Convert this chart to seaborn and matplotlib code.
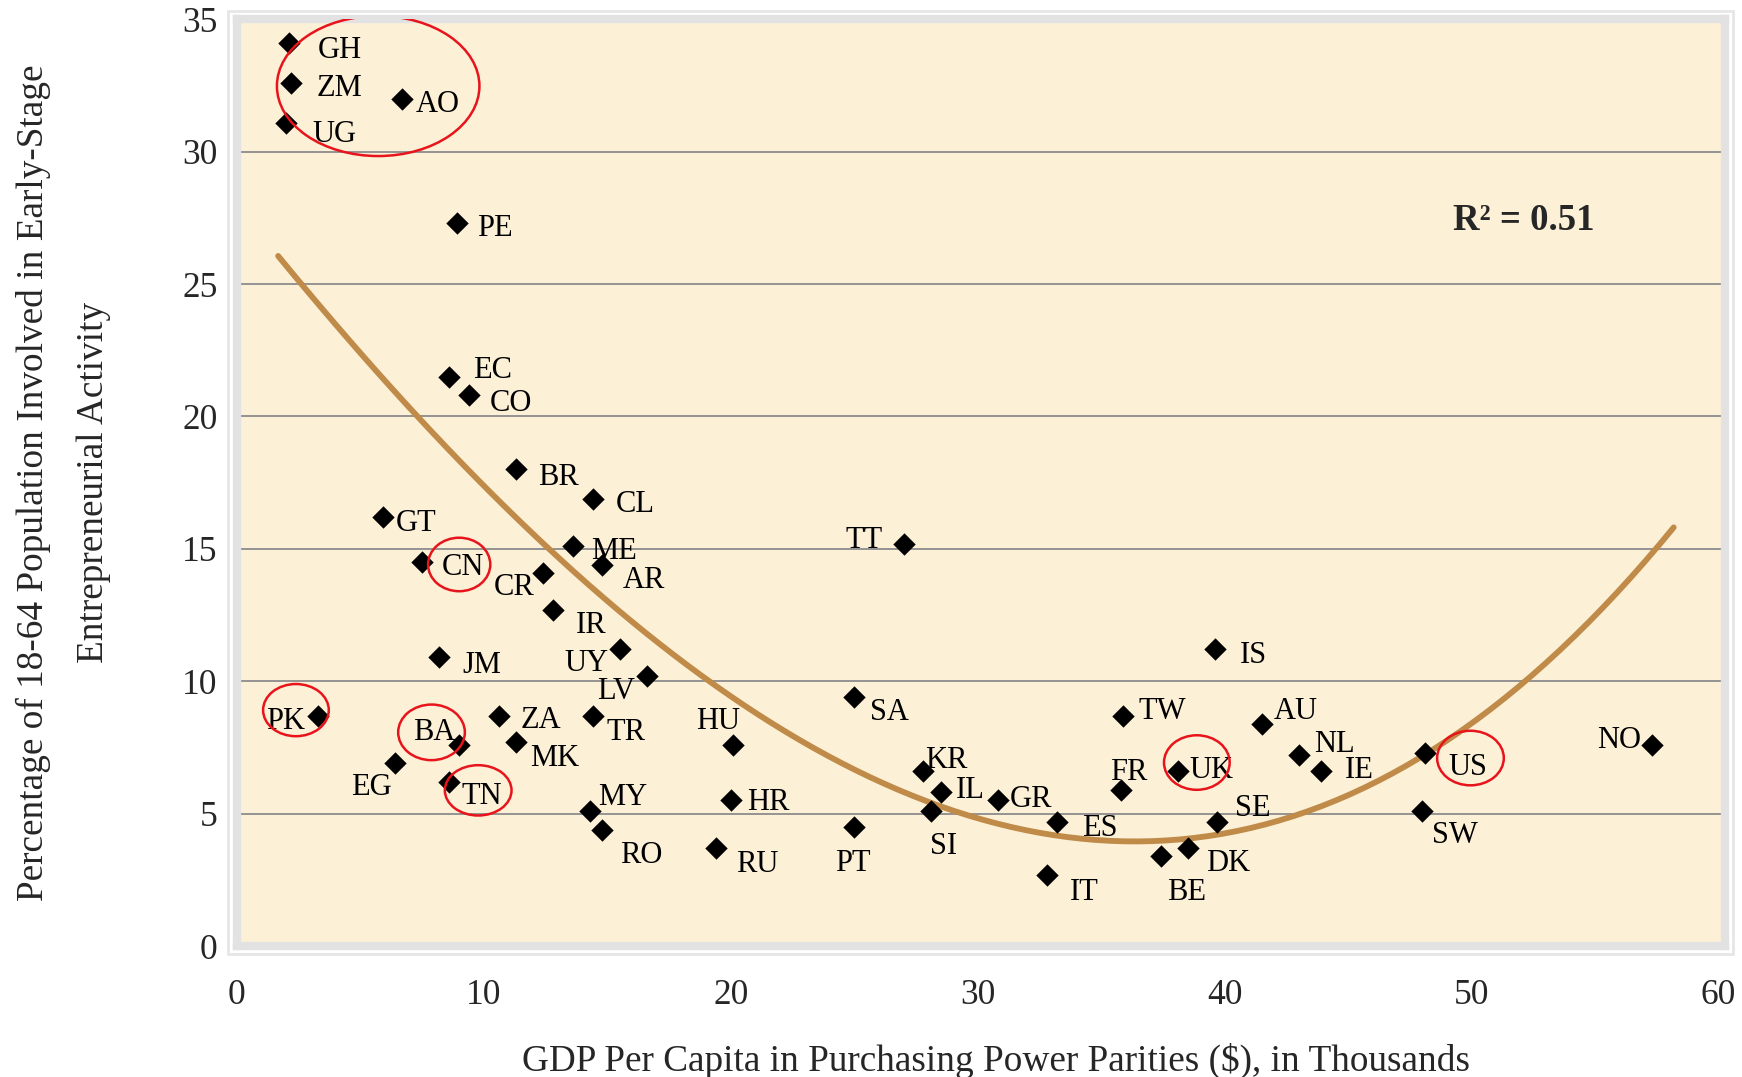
import numpy as np
import pandas as pd
import matplotlib
matplotlib.use("Agg")
import matplotlib.pyplot as plt
import seaborn as sns
from matplotlib.patches import Ellipse, Rectangle

# ---------------- data ----------------
countries = ["GH", "ZM", "UG", "AO", "PE", "EC", "CO", "BR", "CL", "GT", "TT", "ME",
             "CN", "CR", "AR", "IR", "UY", "IS", "JM", "LV", "SA", "TW", "PK", "ZA",
             "TR", "AU", "BA", "HU", "MK", "NO", "US", "NL", "EG", "UK", "IE", "KR",
             "TN", "FR", "IL", "HR", "GR", "MY", "SI", "SW", "ES", "SE", "RO", "PT",
             "DK", "RU", "BE", "IT"]
gdp = [2.1, 2.2, 2.0, 6.7, 8.9, 8.6, 9.4, 11.3, 14.4, 5.9, 27.0, 13.6,
       7.5, 12.4, 14.8, 12.8, 15.5, 39.6, 8.2, 16.6, 25.0, 35.9, 3.3, 10.6,
       14.4, 41.5, 9.0, 20.1, 11.3, 57.3, 48.1, 43.0, 6.4, 38.1, 43.9, 27.8,
       8.6, 35.8, 28.5, 20.0, 30.8, 14.3, 28.1, 48.0, 33.2, 39.7, 14.8, 25.0,
       38.5, 19.4, 37.4, 32.8]
tea = [34.1, 32.6, 31.1, 32.0, 27.3, 21.5, 20.8, 18.0, 16.9, 16.2, 15.2, 15.1,
       14.5, 14.1, 14.4, 12.7, 11.2, 11.2, 10.9, 10.2, 9.4, 8.7, 8.7, 8.7,
       8.7, 8.4, 7.6, 7.6, 7.7, 7.6, 7.3, 7.2, 6.9, 6.6, 6.6, 6.6,
       6.2, 5.9, 5.8, 5.5, 5.5, 5.1, 5.1, 5.1, 4.7, 4.7, 4.4, 4.5,
       3.7, 3.7, 3.4, 2.7]
# label offsets relative to each marker (right / down)
label_dx = [46, 43, 43, 32, 34, 39, 38, 38, 38, 30, -36, 37,
            37, -26, 37, 34, -30, 35, 38, -28, 32, 35, -30, 38,
            30, 31, -22, -14, 35, -30, 39, 32, -21, 30, 34, 21,
            29, 7, 27, 34, 30, 29, 11, 29, 39, 32, 35, -1,
            36, 37, 23, 34]
label_dy = [4, 2, 8, 2, 2, -9, 4, 4, 2, 3, -6, 2,
            2, 10, 11, 11, 10, 2, 4, 11, 11, -7, 2, 1,
            12, -14, -14, -24, 12, -7, 10, -13, 19, -4, -4, -13,
            10, -19, -5, -1, -4, -15, 29, 19, 3, -15, 20, 30,
            11, 12, 30, 13]

# trend line values
trend_x = [1.67, 2.62, 7.48, 12.74, 18.74, 24.17, 27.77, 31.4, 35.9, 40.4,
           44.05, 47.1, 51.87, 57.5, 58.18]
trend_y = [25.93, 25.0, 20.0, 15.0, 10.0, 7.53, 5.27, 4.32, 3.94, 4.32,
           5.2, 6.84, 10.0, 15.0, 15.7]

# highlight ellipses: (x, y, width, height) in data units
hl_x = [5.72, 9.0, 2.39, 7.88, 9.77, 38.87, 49.95]
hl_y = [32.48, 14.41, 8.91, 8.07, 5.88, 6.93, 7.10]
hl_w = [8.2, 2.52, 2.66, 2.7, 2.7, 2.66, 2.7]
hl_h = [5.29, 2.02, 1.97, 2.1, 1.9, 2.06, 2.06]

x_ticks = [0, 10, 20, 30, 40, 50, 60]
y_ticks = [0, 5, 10, 15, 20, 25, 30, 35]

df = pd.DataFrame({"country": countries, "gdp": gdp, "tea": tea})
tdf = pd.DataFrame({"x": trend_x, "y": trend_y})

# ---------------- style ----------------
sns.set_theme(style="white")
serif = ["Liberation Serif", "DejaVu Serif"]
plt.rcParams["font.family"] = serif

fig = plt.figure(figsize=(17.42, 10.77), dpi=100)
ax = fig.add_axes([0.136, 0.1216, 0.854, 0.8605])
ax.set_facecolor("#FCF0D7")

# horizontal gridlines
for yv in y_ticks[1:-1]:
    ax.axhline(yv, color="#8C8C8C", lw=1.3, zorder=1)

# trend line (smooth polynomial through the read trend values)
sns.regplot(data=tdf, x="x", y="y", order=3, ci=None, scatter=False, truncate=True,
            ax=ax, line_kws={"color": "#C08A48", "lw": 4.2, "zorder": 2})

sns.scatterplot(data=df, x="gdp", y="tea", marker="D", s=130, color="black",
                edgecolor="black", linewidth=0, ax=ax, zorder=3)

for c, xv, yv, dx, dy in zip(countries, gdp, tea, label_dx, label_dy):
    ax.annotate(c, (xv, yv), xytext=(dx * 0.8, -(dy + 3) * 0.8), textcoords="offset points",
                ha="center", va="center", fontsize=22, color="black", zorder=4)

for ex, ey, ew, eh in zip(hl_x, hl_y, hl_w, hl_h):
    ax.add_patch(Ellipse((ex, ey), ew, eh, fill=False, edgecolor="#E8141B", lw=1.8, zorder=5))

ax.text(52.1, 27.4, "R² = 0.51", fontsize=26.5, fontweight="bold", ha="center", va="center",
        zorder=4)

ax.set_xlim(0, 60.24)
ax.set_ylim(0, 35)
ax.set_xticks(x_ticks)
ax.set_yticks(y_ticks)
ax.tick_params(axis="x", direction="in", length=8, width=1, color="white", pad=24, labelsize=25.5)
ax.tick_params(axis="y", length=0, pad=14, labelsize=25.5)
for sp in ax.spines.values():
    sp.set_color("#E2E2E2")
    sp.set_linewidth(6)

ax.set_xlabel("GDP Per Capita in Purchasing Power Parities ($), in Thousands", fontsize=26.8,
              labelpad=20)
ax.xaxis.set_label_coords(0.51, -0.105)
ax.set_ylabel("Percentage of 18-64 Population Involved in Early-Stage\nEntrepreneurial Activity",
              fontsize=26.8, linespacing=1.95)
ax.yaxis.set_label_coords(-0.0846, 0.5)

# outer light frame line
fig.patches.append(Rectangle((0.131, 0.114), 0.864, 0.876, transform=fig.transFigure,
                             fill=False, edgecolor="#E6E6E6", lw=2))

fig.savefig("out.png", dpi=100, facecolor="white")
